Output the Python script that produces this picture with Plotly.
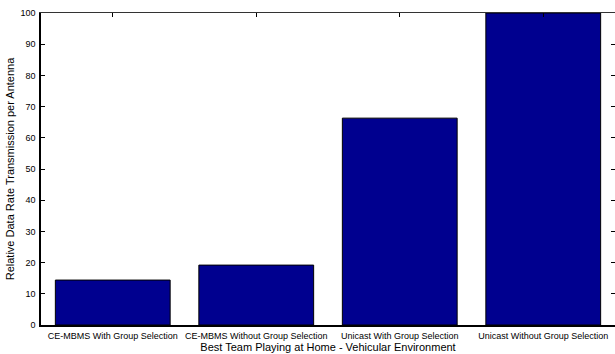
import plotly.graph_objects as go

# Scenario labels and relative data rates (percent of the best case)
categories = [
    "CE-MBMS With Group Selection",
    "CE-MBMS Without Group Selection",
    "Unicast With Group Selection",
    "Unicast Without Group Selection",
]
rates = [14.4, 19.2, 66.3, 100.0]
y_ticks = [0, 10, 20, 30, 40, 50, 60, 70, 80, 90, 100]

positions = list(range(1, len(categories) + 1))
FONT = "Liberation Sans, Arial, Helvetica, sans-serif"

fig = go.Figure()
fig.add_trace(go.Bar(
    x=positions,
    y=rates,
    width=0.8,
    marker=dict(color="#00008f", line=dict(color="black", width=1)),
    showlegend=False,
    hoverinfo="skip",
))
# invisible helper trace so the top/right axes get drawn
fig.add_trace(go.Scatter(x=[1], y=[0], xaxis="x2", yaxis="y2",
                         mode="markers", marker=dict(opacity=0),
                         showlegend=False, hoverinfo="skip"))

fig.update_layout(
    width=615, height=354,
    margin=dict(l=41, r=0, t=13, b=29),
    paper_bgcolor="white", plot_bgcolor="white",
    font=dict(family=FONT, color="black", size=9),
    xaxis=dict(
        range=[0.5, 4.5],
        tickmode="array", tickvals=positions, ticktext=categories,
        ticks="", showgrid=False, zeroline=False,
        showline=True, linecolor="black", linewidth=2,
        tickfont=dict(size=9), ticklabelstandoff=1,
        title=dict(text="Best Team Playing at Home - Vehicular Environment",
                   font=dict(size=11), standoff=0),
    ),
    yaxis=dict(
        range=[0, 100],
        tickmode="array", tickvals=y_ticks,
        ticks="inside", ticklen=4, tickcolor="black", tickwidth=1,
        showgrid=False, zeroline=False,
        showline=True, linecolor="black", linewidth=1.5,
        tickfont=dict(size=9), ticklabelstandoff=2,
        title=dict(text="Relative Data Rate Transmission per Antenna",
                   font=dict(size=11), standoff=4),
    ),
    xaxis2=dict(
        overlaying="x", side="top", range=[0.5, 4.5],
        tickmode="array", tickvals=positions,
        ticks="inside", ticklen=4, tickcolor="black", tickwidth=1,
        showticklabels=False, showgrid=False, zeroline=False,
        showline=True, linecolor="#333333", linewidth=1,
    ),
    yaxis2=dict(
        overlaying="y", side="right", range=[0, 100],
        tickmode="array", tickvals=y_ticks,
        ticks="inside", ticklen=4, tickcolor="black", tickwidth=1,
        showticklabels=False, showgrid=False, zeroline=False,
        showline=False,
    ),
)

fig.write_html("out.html")
